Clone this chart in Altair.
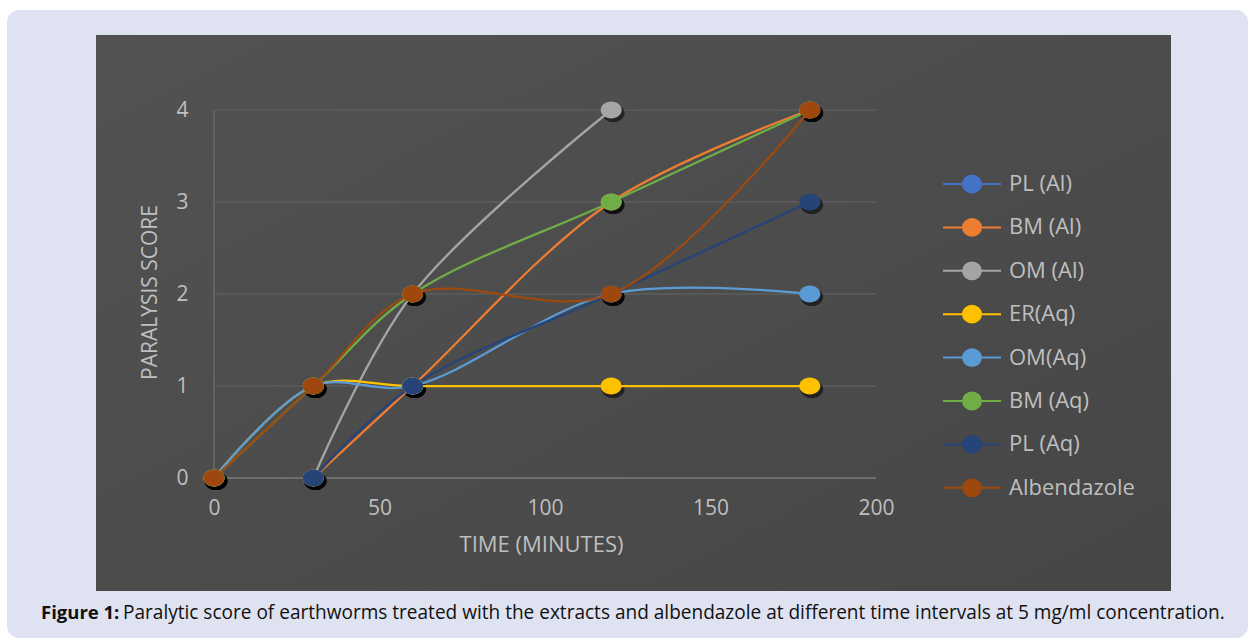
import altair as alt
import pandas as pd

# Observation times (minutes) and paralysis scores per treatment
times = [0, 30, 60, 120, 180]

series_names = ["PL (Al)", "BM (Al)", "OM (Al)", "ER(Aq)", "OM(Aq)", "BM (Aq)", "PL (Aq)", "Albendazole"]
series_colors = ["#4472C4", "#ED7D31", "#A5A5A5", "#FFC000", "#5B9BD5", "#70AD47", "#264478", "#9E480E"]

pl_al = [0, None, None, None, None]
bm_al = [None, 0, 1, 3, 4]
om_al = [None, 0, 2, 4, None]
er_aq = [0, 1, 1, 1, 1]
om_aq = [0, 1, 1, 2, 2]
bm_aq = [0, 1, 2, 3, 4]
pl_aq = [None, 0, 1, 2, 3]
albendazole = [0, 1, 2, 2, 4]

x_ticks = [0, 50, 100, 150, 200]
y_ticks = [0, 1, 2, 3, 4]

caption_bold = "Figure 1:"
caption_text = ("Paralytic score of earthworms treated with the extracts and albendazole "
                "at different time intervals at 5 mg/ml concentration.")

all_series = [pl_al, bm_al, om_al, er_aq, om_aq, bm_aq, pl_aq, albendazole]
rows = []
for name, values in zip(series_names, all_series):
    for t, v in zip(times, values):
        if v is not None:
            rows.append({"series": name, "time": t, "score": v})
df = pd.DataFrame(rows)
grid_df = pd.DataFrame({"tick": y_ticks})

W, H = 662, 368
LEFT, TOP = 214, 110
TEXT = "#bfbfbf"
FONT = "Open Sans"

x_scale = alt.Scale(domain=[0, 200], nice=False, zero=True)
y_scale = alt.Scale(domain=[0, 4], nice=False)

# axes carry only labels and titles; grid and axis line are drawn as rules below the data
x_axis = alt.Axis(
    values=x_ticks, grid=False, domain=False, ticks=False, zindex=1, labelFlush=False,
    labelFont=FONT, labelFontSize=21, labelColor=TEXT,
    labelBaseline="middle", labelPadding=30,
    title="TIME (MINUTES)", titleFont=FONT, titleFontSize=22,
    titleFontWeight="normal", titleColor=TEXT,
    titleX=W / 2 - 4, titleY=66, titleBaseline="middle", titleAlign="center",
)
y_axis = alt.Axis(
    values=y_ticks, grid=False, domain=False, ticks=False, zindex=1, labelFlush=False,
    labelFont=FONT, labelFontSize=21, labelColor=TEXT, labelPadding=26,
    title="PARALYSIS SCORE", titleFont=FONT, titleFontSize=21,
    titleFontWeight="normal", titleColor=TEXT, titleAngle=-90,
    titleX=-64, titleY=H / 2 - 2, titleBaseline="middle", titleAlign="center",
)

# legend symbol: short line with a dot in the middle
legend_symbol = "M-1.45,0H1.45M0.45,0A0.45,0.42,0,1,1,-0.45,0A0.45,0.42,0,1,1,0.45,0Z"
color_scale = alt.Scale(domain=series_names, range=series_colors)
color_legend = alt.Legend(
    orient="none", legendX=737, legendY=53, title=None,
    symbolType=legend_symbol, symbolSize=1600, symbolStrokeWidth=2,
    labelFont=FONT, labelFontSize=22, labelColor=TEXT, labelOffset=16,
    rowPadding=9.4, padding=0,
)

marker = "M1,0A1,0.8,0,1,1,-1,0A1,0.8,0,1,1,1,0Z"

one_row = alt.Data(values=[{"k": 1}])

page_box = alt.Chart(one_row).mark_rect(color="#dfe2f0", cornerRadius=12).encode(
    x=alt.value(7 - LEFT), x2=alt.value(1248 - LEFT),
    y=alt.value(10 - TOP), y2=alt.value(638 - TOP),
)
panel = alt.Chart(one_row).mark_rect(
    color=alt.Gradient(
        gradient="linear", x1=0, y1=0, x2=1, y2=1,
        stops=[alt.GradientStop(color="#525252", offset=0),
               alt.GradientStop(color="#464646", offset=1)],
    )
).encode(
    x=alt.value(96 - LEFT), x2=alt.value(1171 - LEFT),
    y=alt.value(35 - TOP), y2=alt.value(591 - TOP),
)

grid = alt.Chart(grid_df).mark_rule(strokeWidth=1.5).encode(
    y=alt.Y("tick:Q", scale=y_scale, axis=y_axis),
    x=alt.value(0), x2=alt.value(W),
    color=alt.condition("datum.tick === 0", alt.value("#7a7a7a"), alt.value("#5d5d5d")),
)
y_line = alt.Chart(one_row).mark_rule(strokeWidth=1.5, color="#686868").encode(
    x=alt.datum(0, scale=x_scale),
    y=alt.value(0), y2=alt.value(H),
)

base = alt.Chart(df)

shadows = base.mark_point(
    shape=marker, filled=True, color="black", opacity=0.55, size=520, xOffset=2, yOffset=3
).encode(
    x=alt.X("time:Q", scale=x_scale, axis=x_axis),
    y=alt.Y("score:Q", scale=y_scale, axis=y_axis),
)

lines = base.mark_line(interpolate="catmull-rom", strokeWidth=2.25).encode(
    x=alt.X("time:Q", scale=x_scale, axis=x_axis),
    y=alt.Y("score:Q", scale=y_scale, axis=y_axis),
    color=alt.Color("series:N", scale=color_scale, legend=color_legend, sort=series_names),
    detail="series:N",
)

points = base.mark_point(shape=marker, filled=True, opacity=1, size=441).encode(
    x=alt.X("time:Q", scale=x_scale, axis=x_axis),
    y=alt.Y("score:Q", scale=y_scale, axis=y_axis),
    color=alt.Color("series:N", scale=color_scale, legend=color_legend, sort=series_names),
)

cap1 = alt.Chart(one_row).mark_text(
    text=caption_bold, font=FONT, fontSize=18.5, fontWeight="bold", color="#111111",
    align="left", baseline="middle",
).encode(x=alt.value(41 - LEFT), y=alt.value(613 - TOP))
cap2 = alt.Chart(one_row).mark_text(
    text=caption_text, font=FONT, fontSize=19.05, color="#111111",
    align="left", baseline="middle",
).encode(x=alt.value(123 - LEFT), y=alt.value(613 - TOP))

chart = alt.layer(page_box, panel, grid, y_line, shadows, lines, points, cap1, cap2).properties(
    width=W, height=H,
    padding={"left": LEFT, "top": TOP, "right": 1250 - LEFT - W, "bottom": 641 - TOP - H},
    autosize=alt.AutoSizeParams(type="none"),
    background="white",
).configure_view(stroke=None)

chart.save("out.html", embed_options={"renderer": "svg", "actions": False})
